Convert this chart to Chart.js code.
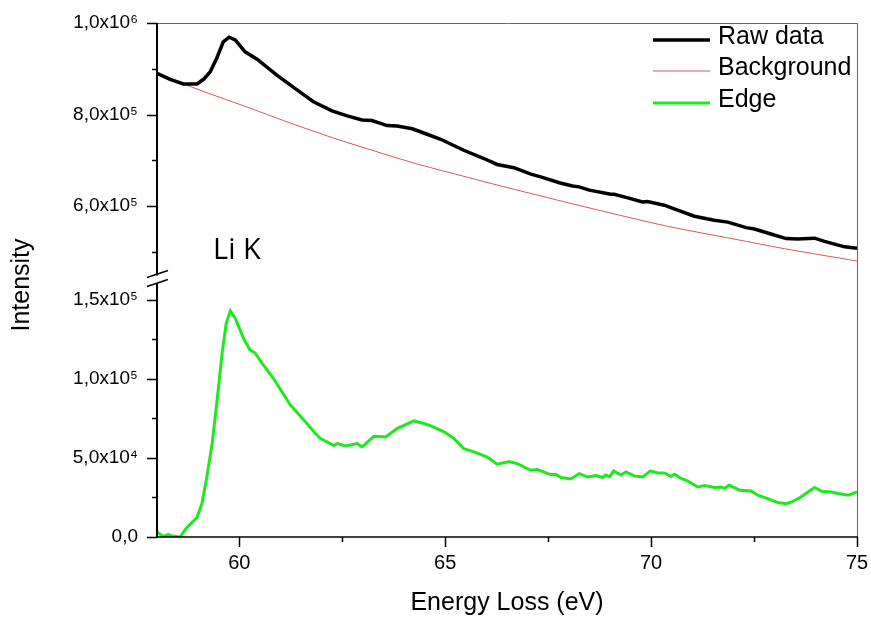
<!DOCTYPE html>
<html>
<head>
<meta charset="utf-8">
<script src="https://cdn.jsdelivr.net/npm/chart.js@4.4.0/dist/chart.umd.min.js"></script>
<style>
  body { margin: 0; background: #fff; }
  canvas { display: block; }
</style>
</head>
<body>
<canvas id="myChart" width="871" height="621"></canvas>
<script>
// values
const rawEnergy = [58.0, 58.32, 58.64, 58.97, 59.13, 59.29, 59.45, 59.61, 59.75, 59.9, 60.14, 60.43, 60.91, 61.4, 61.8,
  62.25, 62.62, 62.98, 63.22, 63.59, 63.83, 64.2, 64.56, 64.89, 65.45, 65.94, 66.26, 66.67, 67.08, 67.32, 67.77,
  68.09, 68.25, 68.5, 69.02, 69.1, 69.39, 69.79, 69.91, 70.32, 70.56, 71.05, 71.53, 71.86, 72.31, 72.51, 72.91,
  73.28, 73.56, 73.97, 74.21, 74.7, 75.0];
const rawIntensity = [890000, 877000, 867000, 867000, 877000, 893000, 923000, 959000, 969000, 963000, 937000, 921000,
  886000, 854000, 828000, 808000, 797000, 788000, 787000, 776000, 775000, 769000, 757000, 746000, 722000, 704000,
  691000, 684000, 670000, 664000, 651000, 644000, 642000, 635000, 626000, 626000, 619000, 609000, 610000, 602000,
  594000, 578000, 569000, 565000, 553000, 550000, 539000, 529000, 528000, 530000, 523000, 511000, 508000];

const bgEnergy = [58.0, 58.64, 59.45, 60.26, 61.07, 62.21, 63.51, 64.32, 65.54, 66.35, 67.73, 68.78, 70.4, 72.02, 73.24, 75.0];
const bgIntensity = [890000, 867000, 840000, 814000, 787000, 751000, 714000, 692000, 663000, 644000, 613000, 590000,
  556000, 528000, 507000, 480000];

const edgeEnergy = [58.0, 58.15, 58.27, 58.4, 58.56, 58.72, 58.97, 59.09, 59.21, 59.34, 59.46, 59.58, 59.68, 59.78,
  59.9, 60.02, 60.1, 60.26, 60.38, 60.55, 60.83, 61.24, 61.57, 61.81, 61.97, 62.29, 62.38, 62.58, 62.86, 62.98,
  63.27, 63.55, 63.83, 64.24, 64.48, 64.65, 64.97, 65.21, 65.45, 65.7, 66.02, 66.26, 66.55, 66.75, 67.08, 67.24,
  67.56, 67.68, 67.81, 68.05, 68.25, 68.46, 68.66, 68.82, 68.9, 68.99, 69.09, 69.27, 69.39, 69.59, 69.8, 69.98,
  70.16, 70.32, 70.48, 70.57, 70.73, 70.89, 71.13, 71.3, 71.54, 71.7, 71.78, 71.9, 72.15, 72.43, 72.59, 72.83,
  73.08, 73.28, 73.4, 73.64, 73.81, 73.97, 74.14, 74.38, 74.54, 74.79, 75.0];
const edgeIntensity = [3200, 400, 1500, 400, 0, 5900, 12300, 21100, 38000, 59100, 86500, 116000, 135000, 143000,
  138200, 130800, 125600, 118200, 116500, 110000, 100200, 83400, 73900, 66500, 62300, 58000, 59100, 57600, 59100, 57000,
  63700, 63300, 68600, 73400, 71800, 70300, 66500, 62300, 55900, 53800, 50600, 46000, 47700, 46400, 42200, 42700,
  39500, 39700, 37600, 36700, 40100, 38000, 38900, 37600, 39200, 38000, 41800, 39200, 41100, 38600, 38000, 41800,
  40500, 40500, 38400, 39700, 37000, 35400, 31600, 32500, 31300, 31600, 30800, 32700, 29600, 29100, 26400, 24300,
  21800, 21100, 22000, 25300, 28500, 31300, 28900, 28500, 27500, 26400, 28500];

const xTicks = [60, 62.5, 65, 67.5, 70, 72.5, 75];
const xTickLabels = ['60', '', '65', '', '70', '', '75'];
const upperTicks = [500000, 600000, 700000, 800000, 900000, 1000000];
const upperTickLabels = ['', '6,0x10\u2075', '', '8,0x10\u2075', '', '1,0x10\u2076'];
const lowerTicks = [0, 25000, 50000, 75000, 100000, 125000, 150000];
const lowerTickLabels = ['0,0', '', '5,0x10\u2074', '', '1,0x10\u2075', '', '1,5x10\u2075'];

function toPoints(xs, ys) {
  return xs.map((x, i) => ({ x: x, y: ys[i] }));
}

const FONT = "'Liberation Sans', Arial, sans-serif";

function noPadding(s) {
  s.paddingTop = 0; s.paddingBottom = 0; s.paddingLeft = 0; s.paddingRight = 0;
}

// frame, tick marks, axis break, legend and labels
const extras = {
  id: 'extras',
  afterDraw(chart) {
    const ctx = chart.ctx;
    const a = chart.chartArea;
    const line = (x1, y1, x2, y2) => { ctx.beginPath(); ctx.moveTo(x1, y1); ctx.lineTo(x2, y2); ctx.stroke(); };
    ctx.save();

    ctx.strokeStyle = '#666';
    ctx.lineWidth = 1;
    line(a.left, a.top + 0.5, a.right + 1, a.top + 0.5);
    line(a.right + 0.5, a.top, a.right + 0.5, a.bottom);

    ctx.strokeStyle = '#000';
    ctx.lineWidth = 2;
    line(a.left, a.top, a.left, a.bottom + 1);
    ctx.lineWidth = 1.5;
    line(a.left, a.bottom, a.right + 1, a.bottom);

    ctx.lineWidth = 1.5;
    ['yTop', 'yBottom'].forEach(id => {
      const s = chart.scales[id];
      s.ticks.forEach(t => {
        const y = Math.round(s.getPixelForValue(t.value)) + 0.5;
        line(a.left - (t.label ? 10 : 5), y, a.left, y);
      });
    });
    const sx = chart.scales.x;
    sx.ticks.forEach(t => {
      const x = Math.round(sx.getPixelForValue(t.value)) + 0.5;
      line(x, a.bottom, x, a.bottom + (t.label ? 10 : 5));
    });

    // axis break
    const yb = chart.scales.yTop.bottom;
    ctx.fillStyle = '#fff';
    ctx.fillRect(a.left - 2, yb - 3, 4, 8);
    ctx.lineWidth = 1.5;
    line(a.left - 10, yb - 1, a.left + 11, yb - 8);
    line(a.left - 10, yb + 8, a.left + 11, yb + 1);

    // legend
    const rows = [37, 68, 100];
    ctx.font = '25px ' + FONT;
    ctx.textBaseline = 'middle';
    ctx.textAlign = 'left';
    chart.data.datasets.forEach((d, i) => {
      ctx.strokeStyle = d.borderColor;
      ctx.lineWidth = d.borderWidth;
      line(653, rows[i] + 3, 710, rows[i] + 3);
      ctx.fillStyle = '#000';
      ctx.fillText(d.label, 718, rows[i]);
    });

    ctx.font = "29px 'Open Sans', sans-serif";
    ctx.textBaseline = 'alphabetic';
    ctx.fillText('Li K', 213, 259);

    ctx.font = '25px ' + FONT;
    ctx.textAlign = 'center';
    ctx.textBaseline = 'middle';
    ctx.translate(22, 285);
    ctx.rotate(-Math.PI / 2);
    ctx.fillText('Intensity', 0, 0);
    ctx.restore();
  }
};

const yCommon = {
  type: 'linear',
  position: 'left',
  stack: 'intensity',
  grid: { display: false, drawTicks: false, tickLength: 0 },
  border: { display: false },
  afterFit: s => { s.width = 157; noPadding(s); }
};

const myChart = new Chart(document.getElementById('myChart'), {
  type: 'line',
  data: {
    datasets: [
      { label: 'Raw data', data: toPoints(rawEnergy, rawIntensity), yAxisID: 'yTop',
        borderColor: '#000', borderWidth: 3.5, pointRadius: 0, tension: 0 },
      { label: 'Background', data: toPoints(bgEnergy, bgIntensity), yAxisID: 'yTop',
        borderColor: '#d8584e', borderWidth: 1, pointRadius: 0, tension: 0.3 },
      { label: 'Edge', data: toPoints(edgeEnergy, edgeIntensity), yAxisID: 'yBottom',
        borderColor: 'rgb(30,232,30)', borderWidth: 3, pointRadius: 0, tension: 0 }
    ]
  },
  options: {
    responsive: false,
    animation: false,
    layout: { padding: { top: 23, right: 14, left: 0, bottom: 0 } },
    plugins: { legend: { display: false }, tooltip: { enabled: false } },
    scales: {
      x: {
        type: 'linear', min: 58, max: 75,
        grid: { display: false, drawTicks: false, tickLength: 0 },
        border: { display: false },
        afterBuildTicks: s => { s.ticks = xTicks.map(v => ({ value: v })); },
        ticks: { autoSkip: false, maxRotation: 0, padding: 14, color: '#000',
          font: { family: FONT, size: 20 }, callback: (v, i) => xTickLabels[i] },
        title: { display: true, text: 'Energy Loss (eV)', color: '#000',
          font: { family: FONT, size: 25 }, padding: { top: 0, bottom: 3 } },
        afterFit: s => { s.height = 84; noPadding(s); }
      },
      yBottom: Object.assign({}, yCommon, {
        min: 0, max: 163500, stackWeight: 258.4,
        afterBuildTicks: s => { s.ticks = lowerTicks.map(v => ({ value: v })); },
        ticks: { autoSkip: false, padding: 19, color: '#000', font: { family: FONT, size: 19 },
          callback: (v, i) => lowerTickLabels[i] }
      }),
      yTop: Object.assign({}, yCommon, {
        min: 442000, max: 1000000, stackWeight: 255.3,
        afterBuildTicks: s => { s.ticks = upperTicks.map(v => ({ value: v })); },
        ticks: { autoSkip: false, padding: 19, color: '#000', font: { family: FONT, size: 19 },
          callback: (v, i) => upperTickLabels[i] }
      })
    }
  },
  plugins: [extras]
});
</script>
</body>
</html>
